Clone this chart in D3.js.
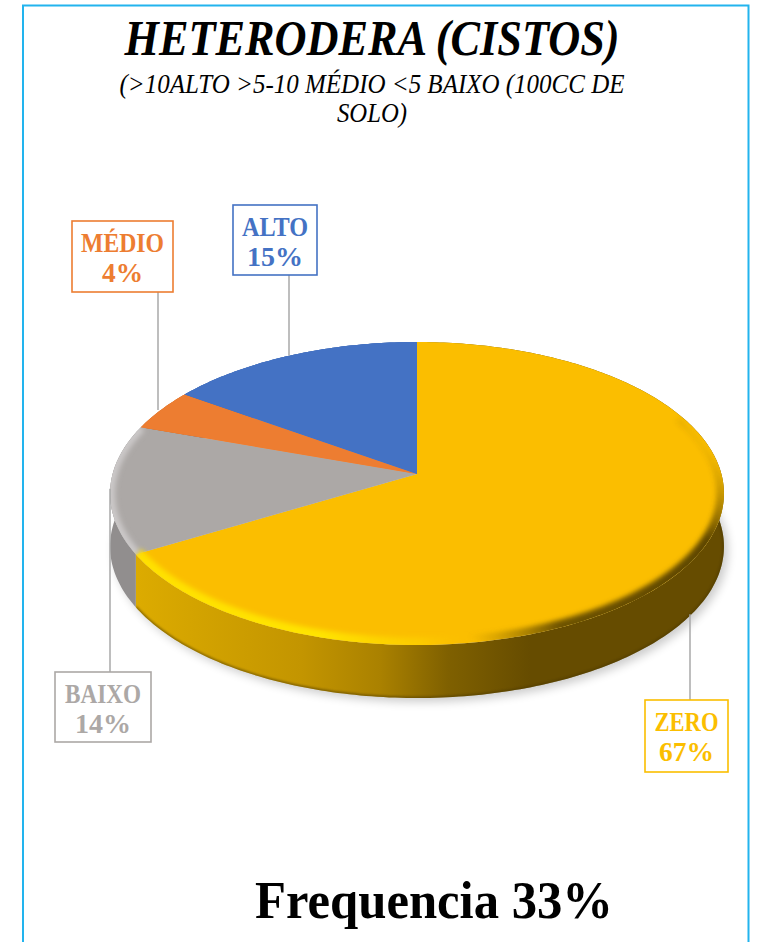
<!DOCTYPE html>
<html>
<head>
<meta charset="utf-8">
<script src="https://cdn.jsdelivr.net/npm/d3@7"></script>
<style>
  html, body { margin: 0; background: #fff; }
  svg { display: block; }
  text { font-family: "Liberation Serif", serif; }
</style>
</head>
<body>
<svg width="758" height="942"></svg>
<script>
// values (the boxes show them rounded)
const categories = ['ZERO', 'BAIXO', 'MÉDIO', 'ALTO'];
const percents = [66.6, 13.7, 4.4, 15.3];
const colours = ['#fbbe00', '#aca8a6', '#ed7d31', '#4472c4'];
const wallColours = ['url(#wallZero)', '#918e8e', '#a85820', '#2f5597'];

const titleText = 'HETERODERA (CISTOS)';
const subtitleLines = ['(>10ALTO >5-10 MÉDIO <5 BAIXO (100CC DE', 'SOLO)'];
const footerText = 'Frequencia 33%';

// label boxes, same order as categories: [x, y, w, h, leader x]
const labelBoxes = [
  [645, 700, 83, 72, 690],
  [55, 672, 96, 70, 110],
  [72, 221, 101, 71, 158],
  [233, 205, 84, 70, 289]
];
// text widths inside the boxes: [name, percent]
const labelWidths = [[64, 55], [76, 56], [83, 41], [66, 56]];

const svg = d3.select('svg');
const defs = svg.append('defs');

// pie geometry, perspective look
const cx = 417, cy = 474, R = 304.4, squash = 149, persp = 0.1287, depth = 53;

function project(a) {
  const u = Math.sin(a), v = -Math.cos(a), d = 1 - persp * v;
  return [cx + R * u / d, cy + squash * v / d];
}
function rimPoints(a0, a1) {
  const n = Math.max(2, Math.ceil((a1 - a0) * 60));
  return d3.range(n + 1).map(i => project(a0 + (a1 - a0) * i / n));
}
const line = d3.line();

const pie = d3.pie().sort(null).value(d => d);
const slices = pie(percents);

// filters
[['blur1', 1], ['blur2', 2.4], ['blurShadow', 5]].forEach(([id, s]) => {
  defs.append('filter').attr('id', id)
    .attr('filterUnits', 'userSpaceOnUse')
    .attr('x', 0).attr('y', 250).attr('width', 758).attr('height', 550)
    .append('feGaussianBlur').attr('stdDeviation', s);
});

function gradient(id, ends, stops) {
  const g = defs.append('linearGradient').attr('id', id)
    .attr('gradientUnits', 'userSpaceOnUse')
    .attr('x1', ends[0]).attr('y1', ends[1]).attr('x2', ends[2]).attr('y2', ends[3]);
  stops.forEach(([o, c, a]) => g.append('stop').attr('offset', o).attr('stop-color', c).attr('stop-opacity', a));
}
gradient('wallZero', [137, 0, 724, 0], [[0, '#dcab00', 1], [0.28, '#c39500', 1], [0.415, '#aa8100', 1], [0.53, '#7f6000', 1], [0.67, '#664c00', 1], [1, '#664c00', 1]]);
gradient('rimBright', [137, 0, 470, 0], [[0, '#ffe000', 1], [0.55, '#ffe400', 1], [0.85, '#fdd000', 0.7], [1, '#fbbe00', 0]]);
gradient('rimDark', [716, 455, 480, 650], [[0, '#5e4600', 0], [0.2, '#5e4600', 1], [0.75, '#6e5300', 1], [1, '#8a6800', 0]]);

const fullRim = rimPoints(0, 2 * Math.PI);
defs.append('clipPath').attr('id', 'topClip').append('path').attr('d', line(fullRim) + 'Z');

const zeroTop = rimPoints(slices[0].startAngle, slices[0].endAngle);
const zeroWall = line(zeroTop.concat(zeroTop.map(p => [p[0], p[1] + depth]).reverse())) + 'Z';
defs.append('clipPath').attr('id', 'wallClip').append('path').attr('d', zeroWall);

// shadow under the pie
svg.append('path')
  .attr('d', line(fullRim.map(p => [p[0] + 4, p[1] + depth + 4])) + 'Z')
  .attr('fill', '#000').attr('opacity', 0.2)
  .attr('filter', 'url(#blurShadow)');

// side walls
slices.forEach((s, i) => {
  const top = rimPoints(s.startAngle, s.endAngle);
  const bottom = top.map(p => [p[0], p[1] + depth]).reverse();
  svg.append('path')
    .attr('d', line(top.concat(bottom)) + 'Z')
    .attr('fill', wallColours[i]);
});

// darker line at the foot of the wall
svg.append('g').attr('clip-path', 'url(#wallClip)').append('path')
  .attr('d', line(zeroTop.map(p => [p[0], p[1] + depth])))
  .attr('fill', 'none').attr('stroke', '#4a3700').attr('stroke-width', 3)
  .attr('opacity', 0.55).attr('filter', 'url(#blur1)');

// top faces
slices.forEach((s, i) => {
  svg.append('path')
    .attr('d', line([[cx, cy]].concat(rimPoints(s.startAngle, s.endAngle))) + 'Z')
    .attr('fill', colours[i]);
});

// bevel along the rim
const bevel = svg.append('g').attr('clip-path', 'url(#topClip)');
[['url(#rimDark)', 1.15, 3.0], ['url(#rimBright)', 2.4, slices[0].endAngle]].forEach(([stroke, a0, a1]) => {
  bevel.append('path')
    .attr('d', line(rimPoints(a0, a1)))
    .attr('fill', 'none').attr('stroke', stroke).attr('stroke-width', 15)
    .attr('filter', 'url(#blur2)');
});
bevel.append('path')
  .attr('d', line(rimPoints(slices[1].startAngle, slices[1].endAngle)))
  .attr('fill', 'none').attr('stroke', '#cbc8c8').attr('stroke-width', 10)
  .attr('filter', 'url(#blur2)');
// the bevel must not run over the slice edges
slices.slice(2).forEach((s, i) => {
  svg.append('path')
    .attr('d', line([[cx, cy]].concat(rimPoints(s.startAngle, s.endAngle))) + 'Z')
    .attr('fill', colours[i + 2]);
});

// leaders, then label boxes
const labels = svg.append('g');
slices.forEach((s, i) => {
  const [x, y, w, h, lx] = labelBoxes[i];
  const anchor = project((s.startAngle + s.endAngle) / 2);
  const below = i === 0;
  const above = anchor[1] > y + h;
  labels.append('line')
    .attr('x1', lx).attr('x2', lx)
    .attr('y1', above ? y + h : y)
    .attr('y2', below ? anchor[1] + depth + 8 : anchor[1])
    .attr('stroke', '#a8a8a8').attr('stroke-width', 1.5);
  labels.append('rect')
    .attr('x', x).attr('y', y).attr('width', w).attr('height', h)
    .attr('fill', '#fff').attr('stroke', colours[i]).attr('stroke-width', 1.6);
  [categories[i], Math.round(percents[i]) + '%'].forEach((t, j) => {
    labels.append('text')
      .attr('x', x + w / 2).attr('y', y + 31 + j * 30)
      .attr('text-anchor', 'middle')
      .attr('font-size', 28).attr('font-weight', 700)
      .attr('textLength', labelWidths[i][j]).attr('lengthAdjust', 'spacingAndGlyphs')
      .attr('fill', colours[i])
      .text(t);
  });
});

// frame, no bottom line
svg.append('path')
  .attr('d', 'M23,942V5.5H748.5V942')
  .attr('fill', 'none').attr('stroke', '#22b4ee').attr('stroke-width', 2);

// titles
svg.append('text')
  .attr('x', 372).attr('y', 55).attr('text-anchor', 'middle')
  .attr('font-size', 51).attr('font-weight', 700).attr('font-style', 'italic')
  .attr('textLength', 495).attr('lengthAdjust', 'spacingAndGlyphs')
  .text(titleText);
subtitleLines.forEach((t, i) => {
  svg.append('text')
    .attr('x', 372).attr('y', 93 + i * 29).attr('text-anchor', 'middle')
    .attr('font-size', 27).attr('font-style', 'italic')
    .attr('textLength', i === 0 ? 505 : 70).attr('lengthAdjust', 'spacingAndGlyphs')
    .text(t);
});
svg.append('text')
  .attr('x', 434).attr('y', 918).attr('text-anchor', 'middle')
  .attr('font-size', 52).attr('font-weight', 700)
  .attr('textLength', 358).attr('lengthAdjust', 'spacingAndGlyphs')
  .text(footerText);
</script>
</body>
</html>
